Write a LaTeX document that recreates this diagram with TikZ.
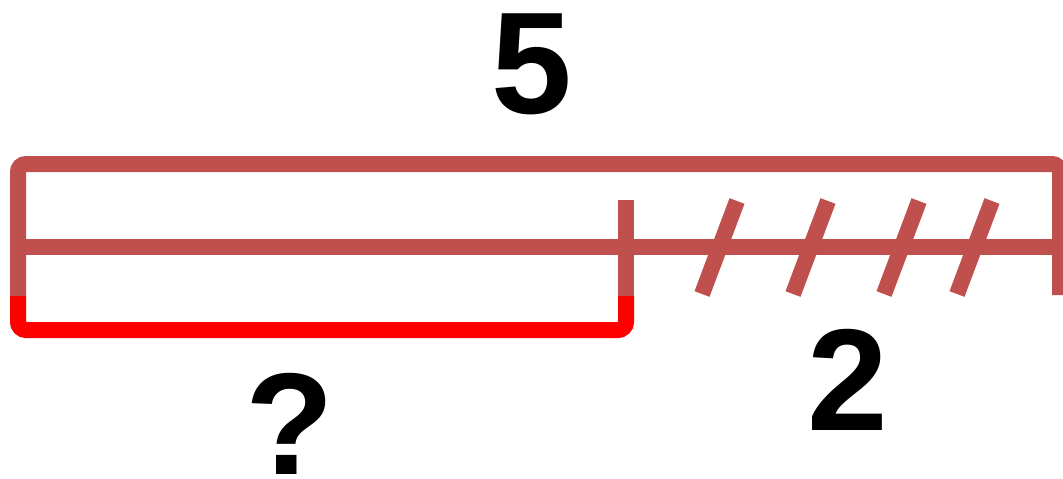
\documentclass[tikz,border=0pt]{standalone}
\usepackage{fontspec}
\setmainfont{Liberation Sans}
\definecolor{barred}{RGB}{192,80,77}
\definecolor{partred}{RGB}{255,0,0}
\tikzset{
  bar/.style={draw=barred,line width=16pt},
  part/.style={draw=partred,line width=16pt},
  num/.style={font=\fontsize{145}{145}\selectfont\bfseries,inner sep=0pt}
}
\begin{document}
\begin{tikzpicture}[x=1pt,y=-1pt]
\useasboundingbox (0,0) rectangle (1063,479);
\draw [bar,rounded corners=8pt] (18,296) -- (18,164) -- (1060,164) -- (1060,295);
\draw [bar] (18,247) -- (1070,247);
\draw [part,rounded corners=8pt] (18,296) -- (18,330) -- (626,330) -- (626,296);
\draw [bar] (626,200) -- (626,296);
\foreach \x in {702,793,884,957}
  \draw [bar] (\x,294) -- (\x+35,201);
\node [num] (whole) at (532,64) {5};
\node [num] (unknown) at (290,424) {?};
\node [num] (known) at (848,380) {2};
\end{tikzpicture}
\end{document}
